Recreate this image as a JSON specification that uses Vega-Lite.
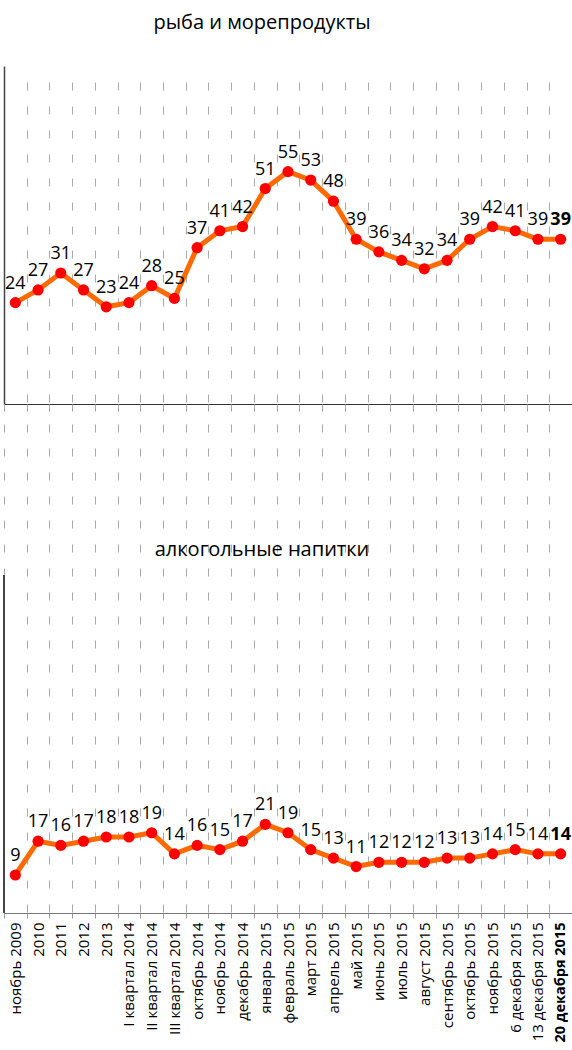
{
  "$schema": "https://vega.github.io/schema/vega-lite/v6.json",
  "background": "white",
  "padding": {"left": -3, "top": 13, "right": 0, "bottom": 0},
  "bounds": "flush",
  "spacing": 0,
  "config": {
    "font": "Open Sans",
    "view": {"stroke": null},
    "title": {"font": "Open Sans", "fontSize": 20, "fontWeight": 500, "color": "#000", "anchor": "middle", "dx": -26, "baseline": "alphabetic"}
  },
  "data": {
    "values": [
      {"period": "ноябрь 2009", "fish": 24, "alcohol": 9},
      {"period": "2010", "fish": 27, "alcohol": 17},
      {"period": "2011", "fish": 31, "alcohol": 16},
      {"period": "2012", "fish": 27, "alcohol": 17},
      {"period": "2013", "fish": 23, "alcohol": 18},
      {"period": "I квартал 2014", "fish": 24, "alcohol": 18},
      {"period": "II квартал 2014", "fish": 28, "alcohol": 19},
      {"period": "III квартал 2014", "fish": 25, "alcohol": 14},
      {"period": "октябрь 2014", "fish": 37, "alcohol": 16},
      {"period": "ноябрь 2014", "fish": 41, "alcohol": 15},
      {"period": "декабрь 2014", "fish": 42, "alcohol": 17},
      {"period": "январь 2015", "fish": 51, "alcohol": 21},
      {"period": "февраль 2015", "fish": 55, "alcohol": 19},
      {"period": "март 2015", "fish": 53, "alcohol": 15},
      {"period": "апрель 2015", "fish": 48, "alcohol": 13},
      {"period": "май 2015", "fish": 39, "alcohol": 11},
      {"period": "июнь 2015", "fish": 36, "alcohol": 12},
      {"period": "июль 2015", "fish": 34, "alcohol": 12},
      {"period": "август 2015", "fish": 32, "alcohol": 12},
      {"period": "сентябрь 2015", "fish": 34, "alcohol": 13},
      {"period": "октябрь 2015", "fish": 39, "alcohol": 13},
      {"period": "ноябрь 2015", "fish": 42, "alcohol": 14},
      {"period": "6 декабря 2015", "fish": 41, "alcohol": 15},
      {"period": "13 декабря 2015", "fish": 39, "alcohol": 14},
      {"period": "20 декабря 2015", "fish": 39, "alcohol": 14}
    ]
  },
  "vconcat": [
    {
      "width": 568,
      "height": 338,
      "title": {"text": "рыба и морепродукты", "offset": 33},
      "encoding": {
        "x": {
          "field": "period", "type": "ordinal", "sort": null,
          "scale": {"type": "band", "paddingInner": 0, "paddingOuter": 0},
          "axis": {"title": null, "labels": false, "tickBand": "extent", "ticks": true, "tickSize": 7, "tickColor": "#999", "domainColor": "#333", "domainWidth": 1.2, "grid": true, "gridDash": [8, 16], "gridDashOffset": 8, "gridColor": "#aaa", "gridWidth": 1}
        },
        "y": {
          "field": "fish", "type": "quantitative",
          "scale": {"domain": [0, 80], "nice": false},
          "axis": {"title": null, "labels": false, "ticks": false, "grid": false, "domainColor": "#444", "domainWidth": 1.5, "minExtent": 0, "maxExtent": 0}
        }
      },
      "layer": [
        {"mark": {"type": "line", "color": "#ff6a00", "strokeWidth": 5}},
        {"mark": {"type": "circle", "color": "#ff0000", "opacity": 1, "size": 125}},
        {
          "transform": [{"filter": "datum.period !== '20 декабря 2015'"}],
          "mark": {"type": "text", "dy": -14, "baseline": "alphabetic", "fontSize": 18, "fontWeight": 500, "color": "#000", "font": "Open Sans"},
          "encoding": {"text": {"field": "fish", "type": "quantitative"}}
        },
        {
          "transform": [{"filter": "datum.period === '20 декабря 2015'"}],
          "mark": {"type": "text", "dy": -14, "baseline": "alphabetic", "fontSize": 18, "fontWeight": "bold", "color": "#000", "font": "Open Sans"},
          "encoding": {"text": {"field": "fish", "type": "quantitative"}}
        }
      ]
    },
    {
      "width": 568,
      "height": 509,
      "title": {"text": "алкогольные напитки", "offset": -156},
      "encoding": {
        "x": {
          "field": "period", "type": "ordinal", "sort": null,
          "scale": {"type": "band", "paddingInner": 0, "paddingOuter": 0},
          "axis": {
            "title": null, "tickBand": "extent", "tickSize": 5, "tickColor": "#999", "domainColor": "#777", "domainWidth": 1.2,
            "grid": true, "gridDash": [8, 16], "gridDashOffset": 4, "gridColor": "#aaa", "gridWidth": 1,
            "labelAngle": -90, "labelFont": "Open Sans", "labelColor": "#000", "labelPadding": 4,
            "labelFontSize": {"condition": {"test": "datum.value === '20 декабря 2015'", "value": 14.5}, "value": 15},
            "labelFontWeight": {"condition": {"test": "datum.value === '20 декабря 2015'", "value": "bold"}, "value": "normal"}
          }
        },
        "y": {
          "field": "alcohol", "type": "quantitative",
          "scale": {"domain": [0, 120.5], "nice": false},
          "axis": null
        }
      },
      "layer": [
        {
          "mark": {"type": "rule", "color": "#444", "strokeWidth": 1.5},
          "encoding": {
            "x": {"datum": "ноябрь 2009", "type": "ordinal", "bandPosition": 0},
            "y": {"datum": 0, "type": "quantitative"},
            "y2": {"datum": 80}
          }
        },
        {"mark": {"type": "line", "color": "#ff6a00", "strokeWidth": 5}},
        {"mark": {"type": "circle", "color": "#ff0000", "opacity": 1, "size": 125}},
        {
          "transform": [{"filter": "datum.period !== '20 декабря 2015'"}],
          "mark": {"type": "text", "dy": -14, "baseline": "alphabetic", "fontSize": 18, "fontWeight": 500, "color": "#000", "font": "Open Sans"},
          "encoding": {"text": {"field": "alcohol", "type": "quantitative"}}
        },
        {
          "transform": [{"filter": "datum.period === '20 декабря 2015'"}],
          "mark": {"type": "text", "dy": -14, "baseline": "alphabetic", "fontSize": 18, "fontWeight": "bold", "color": "#000", "font": "Open Sans"},
          "encoding": {"text": {"field": "alcohol", "type": "quantitative"}}
        }
      ]
    }
  ]
}
